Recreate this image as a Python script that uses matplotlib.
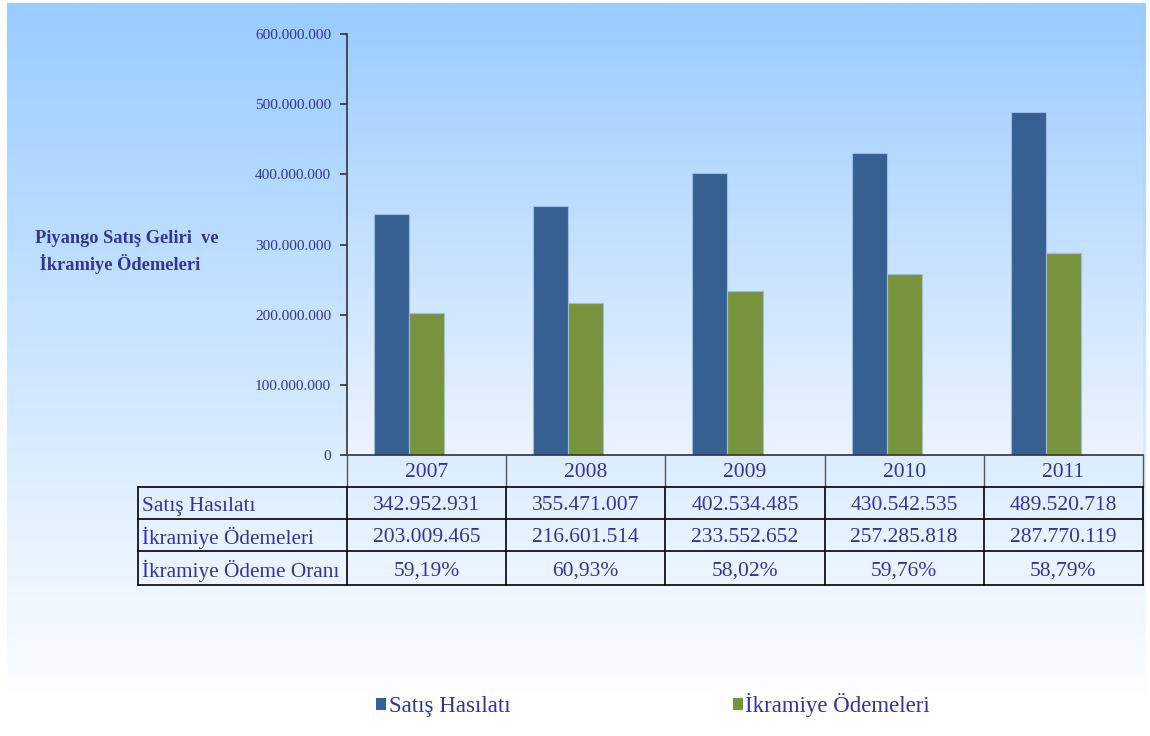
import numpy as np
import matplotlib
matplotlib.use("Agg")
import matplotlib.pyplot as plt
from matplotlib.patches import Patch

### Data
years = ["2007", "2008", "2009", "2010", "2011"]
satis = [342952931, 355471007, 402534485, 430542535, 489520718]
ikramiye = [203009465, 216601514, 233552652, 257285818, 287770119]
oran = ["59,19%", "60,93%", "58,02%", "59,76%", "58,79%"]
row_labels = ["Satış Hasılatı", "İkramiye Ödemeleri", "İkramiye Ödeme Oranı"]
yticks = [0, 100000000, 200000000, 300000000, 400000000, 500000000, 600000000]

def tr_num(v):
    # 342952931 -> 342.952.931
    return f"{v:,}".replace(",", ".")

W, H = 1150, 736
txt = "#333399"
blue = "#366092"
green = "#77933c"
plt.rcParams["font.family"] = ["Liberation Serif", "DejaVu Serif"]

fig = plt.figure(figsize=(W / 100, H / 100), dpi=100)
fig.patch.set_facecolor("white")

### background gradient (chart area)
bg = fig.add_axes([0, 0, 1, 1], zorder=0)
bg.set_xlim(0, W)
bg.set_ylim(H, 0)
bg.axis("off")
t = np.linspace(0, 1, 256)[:, None]
top = np.array([153, 204, 255]) / 255
bot = np.array([255, 255, 255]) / 255
grad = top[None, None, :] * (1 - t[..., None]) + bot[None, None, :] * t[..., None]
grad = np.repeat(grad, 2, axis=1)
bg.imshow(grad, extent=[7, W - 4, 706, 3], aspect="auto")

### main chart
x0, x1, ytop, ybot = 347, 1143, 34, 455
ax = fig.add_axes([x0 / W, 1 - ybot / H, (x1 - x0) / W, (ybot - ytop) / H], zorder=1)
ax.patch.set_alpha(0)
ptop = np.array([158, 206, 255]) / 255
pbot = np.array([236, 244, 253]) / 255
pgrad = ptop[None, None, :] * (1 - t[..., None]) + pbot[None, None, :] * t[..., None]
pgrad = np.repeat(pgrad, 2, axis=1)
ax.imshow(pgrad, extent=[0, 1, 0, 1], transform=ax.transAxes, aspect="auto", zorder=0)

x = np.arange(len(years))
bw = 0.22
ax.bar(x - bw, satis, bw, color=blue, edgecolor="#9dbbe3", linewidth=0.8, zorder=2)
ax.bar(x, ikramiye, bw, color=green, edgecolor="#9dbbe3", linewidth=0.8, zorder=2)
ax.set_xlim(-0.5, len(years) - 0.5)
ax.set_ylim(0, 600000000)
ax.set_yticks(yticks)
ax.set_yticklabels([tr_num(v) for v in yticks], fontsize=11, color=txt)
ax.tick_params(axis="y", direction="out", length=5, width=1.2, color="#333333", pad=6.5)
ax.set_xticks(x)
ax.set_xticklabels(years, fontsize=15.5, color=txt)
ax.tick_params(axis="x", length=0, pad=6)
for s in ["top", "right"]:
    ax.spines[s].set_visible(False)
ax.spines["left"].set_color("#333333")
ax.spines["left"].set_linewidth(1.2)
ax.spines["bottom"].set_color("#333333")
ax.spines["bottom"].set_linewidth(1.2)

### table under chart (pixel coordinates)
tb = fig.add_axes([0, 0, 1, 1], zorder=2)
tb.set_xlim(0, W)
tb.set_ylim(H, 0)
tb.axis("off")
tb.patch.set_alpha(0)
cols = np.linspace(x0, x1, len(years) + 1)
rows = [455, 487, 519, 551, 585]
lx = 138
# header row dividers
for c in cols:
    tb.plot([c, c], [rows[0], rows[1]], color="#555555", lw=1)
for r in rows[1:]:
    tb.plot([lx, x1], [r, r], color="black", lw=1.2)
for c in [lx] + list(cols):
    tb.plot([c, c], [rows[1], rows[-1]], color="black", lw=1.2)
table_rows = [[tr_num(v) for v in satis], [tr_num(v) for v in ikramiye], oran]
for i, (lab, vals) in enumerate(zip(row_labels, table_rows)):
    yc = (rows[i + 1] + rows[i + 2]) / 2 + 0.5
    tb.text(lx + 4, yc, lab, fontsize=15.3, color=txt, ha="left", va="center_baseline")
    for j, v in enumerate(vals):
        tb.text((cols[j] + cols[j + 1]) / 2, yc, v, fontsize=15.5, color=txt,
                ha="center", va="center_baseline")

### y label
tb.text(35, 252, "Piyango Satış Geliri  ve\n İkramiye Ödemeleri", fontsize=13.2,
        fontweight="bold", color=txt, ha="left", va="center", linespacing=1.45)

### legend
handles = [Patch(facecolor=blue, label="Satış Hasılatı"),
           Patch(facecolor=green, label="İkramiye Ödemeleri")]
fig.legend(handles=handles, loc="center left", bbox_to_anchor=(376 / W, 1 - 705 / H),
           ncol=2, frameon=False, fontsize=16.5, handlelength=0.45, handleheight=0.45,
           handletextpad=0.1, columnspacing=9.7, borderpad=0, borderaxespad=0,
           labelcolor=txt)

plt.savefig("out.png", dpi=100)
